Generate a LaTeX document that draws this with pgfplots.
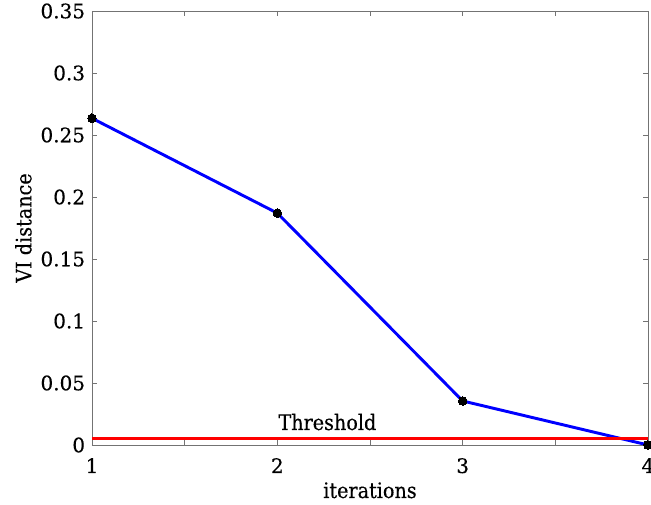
\documentclass[border=0pt]{standalone}
\usepackage{pgfplots}
\pgfplotsset{compat=1.18}
\usepackage{fontspec}
\setmainfont[FakeBold=0.3]{DejaVu Serif Condensed}
\newfontfamily\tickfont[FakeBold=0.3]{DejaVu Serif}
\begin{document}
\begin{tikzpicture}
\begin{axis}[
  width=417pt, height=325.5pt, scale only axis,
  xmin=1, xmax=4, ymin=0, ymax=0.35,
  xtick={1,1.5,2,2.5,3,3.5,4},
  xticklabels={1,,2,,3,,4},
  ytick={0,0.05,0.1,0.15,0.2,0.25,0.3,0.35},
  yticklabels={0,0.05,0.1,0.15,0.2,0.25,0.3,0.35},
  tick align=inside,
  major tick length=4pt,
  axis line style={black!55, line width=0.7pt},
  tick style={black!55, line width=0.7pt},
  ticklabel style={font=\tickfont\fontsize{15}{15}\selectfont},
  xticklabel style={anchor=base, inner sep=0pt, yshift=-21pt},
  yticklabel style={anchor=east, inner sep=0pt, xshift=-5pt},
  xlabel={iterations}, ylabel={VI distance},
  label style={font=\fontsize{16}{16}\selectfont},
  xlabel style={at={(axis description cs:0.5,0)}, anchor=base, inner sep=0pt, yshift=-39.75pt},
  ylabel style={at={(axis description cs:0,0.5)}, anchor=center, inner sep=0pt, yshift=51.4pt},
  clip=false,
]
\addplot[blue, line width=2.2pt, mark=*, mark size=3.2pt,
  mark options={fill=black, draw=black, line width=0pt}]
  coordinates {(1,0.2635) (2,0.187) (3,0.0355) (4,0.0)};
\addplot[red, line width=2.3pt] coordinates {(1,0.0055) (4,0.0055)};
\node[font=\fontsize{16}{16}\selectfont, anchor=base] at (axis cs:2.27,0.0121) {Threshold};
\end{axis}
\pgfresetboundingbox
\path ([shift={(-69pt,-45pt)}]current axis.south west) rectangle ([shift={(2.25pt,8.25pt)}]current axis.north east);
\end{tikzpicture}
\end{document}
